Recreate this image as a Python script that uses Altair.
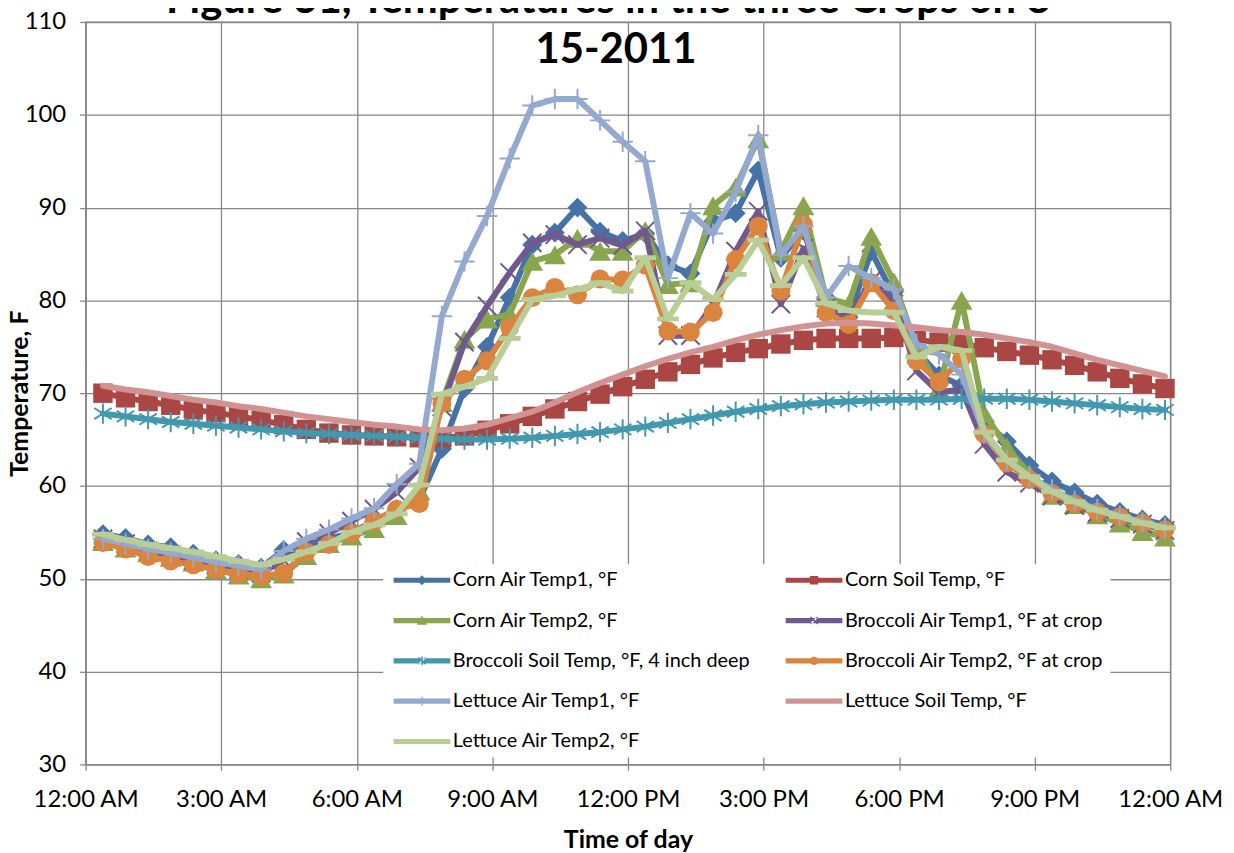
import altair as alt
import pandas as pd

# ---------------- data ----------------
reading_times = ["00:23", "00:53", "01:23", "01:53", "02:23", "02:53", "03:23", "03:53",
                 "04:23", "04:53", "05:23", "05:53", "06:23", "06:53", "07:23", "07:53",
                 "08:23", "08:53", "09:23", "09:53", "10:23", "10:53", "11:23", "11:53",
                 "12:23", "12:53", "13:23", "13:53", "14:23", "14:53", "15:23", "15:53",
                 "16:23", "16:53", "17:23", "17:53", "18:23", "18:53", "19:23", "19:53",
                 "20:23", "20:53", "21:23", "21:53", "22:23", "22:53", "23:23", "23:53"]

corn_air1 = [54.8, 54.4, 53.7, 53.4, 52.7, 52.0, 51.6, 51.2, 53.1, 53.6,
             54.3, 55.0, 56.2, 57.5, 58.5, 64.0, 70.5, 75.0, 80.3, 86.0,
             87.3, 90.0, 87.4, 86.4, 87.2, 83.8, 82.9, 88.5, 89.4, 94.0,
             84.6, 87.5, 80.3, 78.2, 85.3, 80.5, 74.6, 71.9, 70.8, 67.0,
             64.8, 62.2, 60.5, 59.3, 58.1, 57.2, 56.4, 55.8]
corn_soil = [70.0, 69.5, 69.1, 68.7, 68.2, 67.9, 67.5, 67.1, 66.6, 66.1,
             65.7, 65.5, 65.4, 65.3, 65.2, 65.2, 65.4, 66.0, 66.7, 67.5,
             68.3, 69.1, 69.9, 70.7, 71.5, 72.3, 73.1, 73.8, 74.4, 74.8,
             75.3, 75.7, 75.9, 75.9, 75.9, 76.0, 75.7, 75.5, 75.3, 74.9,
             74.5, 74.1, 73.6, 73.0, 72.3, 71.6, 71.0, 70.5]
corn_air2 = [54.0, 53.3, 52.8, 52.3, 51.8, 51.0, 50.4, 50.0, 50.5, 52.5,
             53.8, 54.6, 55.4, 56.8, 59.5, 69.0, 75.8, 78.0, 78.5, 84.2,
             84.9, 86.7, 85.3, 85.3, 87.5, 81.7, 81.9, 90.2, 92.2, 97.4,
             85.3, 90.2, 80.3, 79.6, 86.9, 82.0, 75.0, 70.5, 80.0, 67.8,
             64.2, 61.3, 59.0, 58.0, 56.9, 56.0, 55.1, 54.5]
broccoli_air1 = [54.3, 53.8, 53.0, 52.6, 52.0, 51.5, 51.0, 50.6, 52.0, 54.0,
                 54.9, 56.2, 57.5, 59.3, 62.0, 68.5, 75.5, 79.4, 83.0, 86.2,
                 87.1, 86.0, 86.7, 85.9, 87.5, 76.2, 76.2, 79.5, 85.3, 89.6,
                 79.6, 85.6, 79.2, 78.2, 82.1, 80.0, 72.4, 70.1, 70.4, 64.5,
                 61.5, 60.3, 58.9, 57.9, 57.1, 56.5, 55.9, 55.2]
broccoli_soil = [67.8, 67.5, 67.2, 66.9, 66.7, 66.5, 66.3, 66.1, 65.9, 65.7,
                 65.6, 65.5, 65.4, 65.3, 65.2, 65.1, 65.0, 65.0, 65.1, 65.2,
                 65.4, 65.6, 65.8, 66.1, 66.4, 66.8, 67.2, 67.6, 68.0, 68.3,
                 68.6, 68.8, 69.0, 69.1, 69.2, 69.3, 69.3, 69.3, 69.4, 69.4,
                 69.4, 69.3, 69.1, 68.9, 68.7, 68.5, 68.3, 68.2]
broccoli_air2 = [53.9, 53.2, 52.4, 51.9, 51.5, 51.0, 50.5, 50.3, 50.6, 52.9,
                 53.7, 54.9, 56.2, 57.5, 58.1, 68.9, 71.5, 73.5, 77.1, 80.3,
                 81.4, 80.6, 82.3, 82.2, 83.8, 76.7, 76.6, 78.7, 84.4, 88.0,
                 81.0, 88.2, 78.7, 77.4, 81.9, 78.9, 73.5, 71.2, 73.7, 65.6,
                 62.5, 60.7, 59.2, 58.1, 57.2, 56.7, 56.0, 55.3]
lettuce_air1 = [54.3, 53.8, 53.2, 52.8, 52.3, 51.8, 51.4, 51.0, 53.0, 54.3,
                55.3, 56.5, 57.6, 60.2, 62.4, 78.3, 84.2, 89.1, 95.3, 101.0,
                101.7, 101.7, 99.4, 97.1, 95.0, 82.4, 89.4, 87.2, 91.7, 97.8,
                84.9, 88.0, 80.3, 83.7, 82.4, 81.2, 75.3, 74.2, 72.0, 65.7,
                62.8, 61.0, 59.6, 58.4, 57.5, 56.8, 56.1, 55.5]
lettuce_soil = [70.8, 70.4, 70.1, 69.7, 69.3, 69.0, 68.6, 68.3, 67.9, 67.5,
                67.2, 66.9, 66.6, 66.4, 66.1, 66.0, 66.2, 66.6, 67.3, 68.0,
                69.0, 70.1, 71.1, 72.0, 72.9, 73.7, 74.4, 75.0, 75.7, 76.3,
                76.8, 77.2, 77.5, 77.6, 77.5, 77.3, 77.1, 76.8, 76.6, 76.3,
                75.9, 75.5, 75.0, 74.3, 73.6, 73.0, 72.4, 71.8]
lettuce_air2 = [54.8, 54.2, 53.7, 53.3, 52.9, 52.4, 51.9, 51.5, 52.1, 52.9,
                53.8, 55.0, 55.8, 57.0, 60.1, 69.9, 70.7, 71.6, 75.9, 80.1,
                80.5, 81.2, 81.9, 81.0, 84.6, 78.0, 81.9, 80.1, 82.8, 86.5,
                81.6, 84.6, 79.7, 78.9, 78.7, 78.7, 73.9, 75.0, 74.6, 65.8,
                62.8, 61.0, 59.4, 58.3, 57.4, 56.7, 56.0, 55.5]

series_names = ["Corn Air Temp1, °F", "Corn Soil Temp, °F", "Corn Air Temp2, °F",
                "Broccoli Air Temp1, °F at crop", "Broccoli Soil Temp, °F, 4 inch deep",
                "Broccoli Air Temp2, °F at crop", "Lettuce Air Temp1, °F",
                "Lettuce Soil Temp, °F", "Lettuce Air Temp2, °F"]
series_values = [corn_air1, corn_soil, corn_air2, broccoli_air1, broccoli_soil,
                 broccoli_air2, lettuce_air1, lettuce_soil, lettuce_air2]

# legend is filled column by column: left column first, then right column
legend_order = [series_names[i] for i in (0, 2, 4, 6, 8, 1, 3, 5, 7)]

# ---------------- styling ----------------
colors = ["#4572A7", "#AA4643", "#89A54E", "#71588F", "#4198AF",
          "#DB843D", "#93A9CF", "#D19392", "#B9CD96"]

# plot markers: (shape, filled, size, strokeWidth)
markers = [
    ("diamond", True, 400, 0),
    ("square", True, 380, 0),
    ("triangle-up", True, 480, 0),
    ("M-1,-1L1,1M-1,1L1,-1", False, 340, 2),
    ("M0,-1V1M-0.85,-0.55L0.85,0.55M-0.85,0.55L0.85,-0.55", False, 420, 2),
    ("circle", True, 360, 0),
    ("M-1,0H1M0,-1V1", False, 420, 2),
    None,
    ("M-1,-0.22H1V0.22H-1Z", True, 484, 0),
]

# legend symbols: a thick line with a small marker (1 unit = 10 px)
LINE = "M-2.85,-0.26H2.85V0.26H-2.85Z"
XMARK = " M-0.4,-0.3L-0.3,-0.4L0.4,0.3L0.3,0.4Z M-0.4,0.3L-0.3,0.4L0.4,-0.3L0.3,-0.4Z"
VBAR = " M-0.07,-0.45H0.07V0.45H-0.07Z"
legend_paths = [
    LINE + " M0,-0.5L0.5,0L0,0.5L-0.5,0Z",
    LINE + " M-0.42,-0.42H0.42V0.42H-0.42Z",
    LINE + " M0,-0.5L0.52,0.42H-0.52Z",
    LINE + XMARK,
    LINE + VBAR + XMARK,
    LINE + " M-0.45,0L-0.32,-0.32L0,-0.45L0.32,-0.32L0.45,0L0.32,0.32L0,0.45L-0.32,0.32Z",
    LINE + VBAR,
    LINE,
    LINE,
]

FONT = "Lato"
GRID = "#878787"

rows = []
for name, vals in zip(series_names, series_values):
    for tstr, v in zip(reading_times, vals):
        hh, mm = tstr.split(":")
        rows.append({"hour": int(hh) + int(mm) / 60.0, "series": name, "temp": v})
df = pd.DataFrame(rows)

x_enc = alt.X("hour:Q",
              scale=alt.Scale(domain=[0, 24], nice=False, zero=False),
              axis=alt.Axis(values=list(range(0, 25, 3)),
                            labelExpr="(datum.value % 12 == 0 ? 12 : datum.value % 12) + ':00 ' + ((datum.value % 24) < 12 ? 'AM' : 'PM')",
                            title="Time of day", grid=True, labelOverlap=False,
                            labelFlush=False))
y_enc = alt.Y("temp:Q",
              scale=alt.Scale(domain=[30, 110], nice=False, zero=False),
              axis=alt.Axis(values=list(range(30, 111, 10)), title="Temperature, F",
                            grid=True, labelOverlap=False, labelFlush=False,
                            titleX=-53, titleY=373))
color_scale = alt.Scale(domain=series_names, range=colors)

legend_props = dict(title=None, orient="none", legendX=299, legendY=545,
                    columns=2, fillColor="white", padding=6, values=legend_order,
                    symbolSize=400, symbolStrokeWidth=0, symbolOpacity=1,
                    symbolOffset=23,
                    labelFont=FONT, labelFontSize=20, labelColor="black",
                    labelOffset=21, rowPadding=20.5, columnPadding=30, labelLimit=400)

# invisible layer that only carries the legend (first, so its legend settings win)
legend_df = pd.DataFrame({"series": series_names})
legend_layer = alt.Chart(legend_df).mark_point(filled=True, opacity=0).encode(
    color=alt.Color("series:N", scale=color_scale, legend=alt.Legend(**legend_props)),
    shape=alt.Shape("series:N", scale=alt.Scale(domain=series_names, range=legend_paths),
                    legend=alt.Legend(**legend_props)),
)

layers = [legend_layer]
for name, mk in zip(series_names, markers):
    sub = alt.Chart(df).transform_filter(alt.datum.series == name)
    layers.append(sub.mark_line(strokeWidth=6, strokeJoin="round", strokeCap="round").encode(
        x=x_enc, y=y_enc, color=alt.Color("series:N", scale=color_scale, legend=None)))
    if mk is not None:
        shape, filled, size, sw = mk
        layers.append(sub.mark_point(shape=shape, filled=filled, size=size, strokeWidth=sw,
                                     opacity=1).encode(
            x=x_enc, y=y_enc, color=alt.Color("series:N", scale=color_scale, legend=None)))

chart = alt.layer(*layers).properties(
    width=1090, height=746,
    title=alt.TitleParams(
        text=["Figure 31, Temperatures in the three Crops on 8-", "15-2011"],
        font=FONT, fontSize=42, fontWeight="bold", color="black",
        anchor="middle", offset=-62, dx=-12, lineHeight=50),
    autosize=alt.AutoSizeParams(type="none"),
    padding={"left": 78, "top": 12, "right": 56, "bottom": 87},
).configure_axis(
    labelFont=FONT, labelFontSize=24, labelColor="black",
    titleFont=FONT, titleFontSize=25, titleFontWeight="bold", titleColor="black",
    gridColor=GRID, gridWidth=1.3, gridOpacity=1,
    domainColor=GRID, domainWidth=1.3, tickColor=GRID, tickWidth=1.3, tickSize=6,
).configure_axisX(labelPadding=17, titlePadding=17
).configure_axisY(labelPadding=14
).configure_view(stroke=GRID, strokeWidth=1.3)

chart.save("out.html", embed_options={"renderer": "svg", "actions": False})
